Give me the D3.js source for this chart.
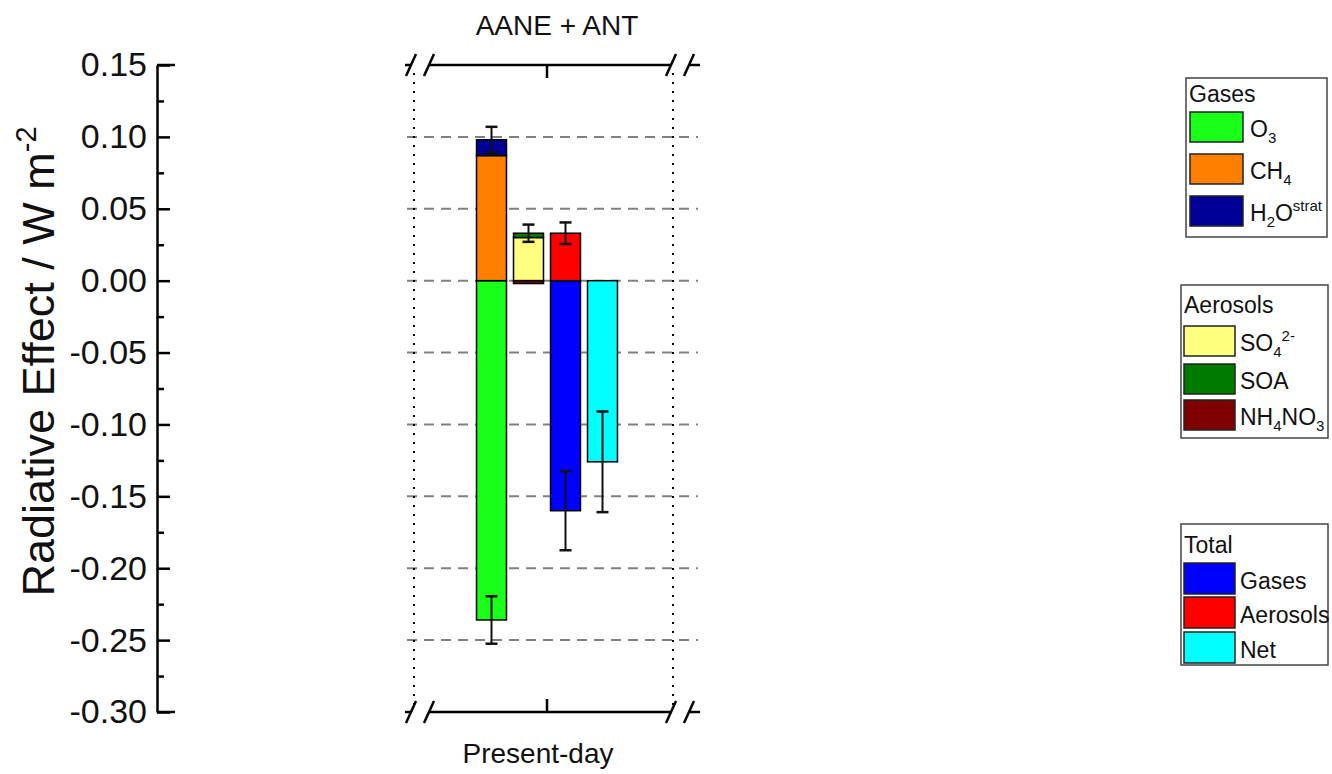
<!DOCTYPE html>
<html>
<head>
<meta charset="utf-8">
<script src="https://cdn.jsdelivr.net/npm/d3@7"></script>
<style>
  body { margin: 0; background: #fff; }
  svg { display: block; font-family: Arial, "Liberation Sans", sans-serif; }
</style>
</head>
<body>
<svg id="chart" width="1332" height="774"></svg>
<script>
// ---- data ----
const categories = ["Present-day"];
const panelTitle = "AANE + ANT";
const yTicks = [0.15, 0.10, 0.05, 0.00, -0.05, -0.10, -0.15, -0.20, -0.25, -0.30];
const yMinorTicks = [0.125, 0.075, 0.025, -0.025, -0.075, -0.125, -0.175, -0.225, -0.275];

const gasSpecies = ["O3", "CH4", "H2Ostrat"];
const gasValues = [-0.236, 0.087, 0.011];
const gasErrors = [0.0165, 0, 0.009];

const aerosolSpecies = ["SO4", "SOA", "NH4NO3"];
const aerosolValues = [0.030, 0.003, -0.002];
const aerosolErrors = [0, 0.006, 0];

const totalNames = ["Gases", "Aerosols", "Net"];
const totalValues = [-0.160, 0.033, -0.126];
const totalErrors = [0.0275, 0.0075, 0.035];

// bar slots inside the category group and which series each one stacks
const barSlots = ["gas", "aerosol", "total", "net"];

const colors = {
  O3: "#1aff1a", CH4: "#ff8000", H2Ostrat: "#000096",
  SO4: "#ffff80", SOA: "#007a00", NH4NO3: "#7f0000",
  Gases: "#0000ff", Aerosols: "#ff0000", Net: "#00ffff"
};

// legend labels: [text, "sub"|"sup"|""] parts
const legendGroups = [
  { title: "Gases", items: [
    { key: "O3", parts: [["O", ""], ["3", "sub"]] },
    { key: "CH4", parts: [["CH", ""], ["4", "sub"]] },
    { key: "H2Ostrat", parts: [["H", ""], ["2", "sub"], ["O", ""], ["strat", "sup"]] }
  ]},
  { title: "Aerosols", items: [
    { key: "SO4", parts: [["SO", ""], ["4", "sub"], ["2-", "sup"]] },
    { key: "SOA", parts: [["SOA", ""]] },
    { key: "NH4NO3", parts: [["NH", ""], ["4", "sub"], ["NO", ""], ["3", "sub"]] }
  ]},
  { title: "Total", items: [
    { key: "Gases", parts: [["Gases", ""]] },
    { key: "Aerosols", parts: [["Aerosols", ""]] },
    { key: "Net", parts: [["Net", ""]] }
  ]}
];

// ---- build stacked segments ----
function stackSeries(names, values, errors) {
  let pos = 0, neg = 0;
  return names.map((n, i) => {
    const v = values[i];
    let y0, y1;
    if (v >= 0) { y0 = pos; y1 = pos + v; pos = y1; }
    else { y0 = neg; y1 = neg + v; neg = y1; }
    return { name: n, y0, y1, err: errors[i] };
  });
}
const slotSegments = {
  gas: stackSeries(gasSpecies, gasValues, gasErrors),
  aerosol: stackSeries(aerosolSpecies, aerosolValues, aerosolErrors),
  total: stackSeries(totalNames.slice(0, 2), totalValues.slice(0, 2), totalErrors.slice(0, 2)),
  net: stackSeries(totalNames.slice(2), totalValues.slice(2), totalErrors.slice(2))
};

// ---- layout ----
const svg = d3.select("#chart");
const axisX = 157, plotTop = 65, plotBottom = 712;
const frameLeft = 414, frameRight = 673;

const y = d3.scaleLinear().domain([-0.30, 0.15]).range([plotBottom, plotTop]);
const xCat = d3.scaleBand().domain(categories).range([414, 680]);
const catCenter = xCat(categories[0]) + xCat.bandwidth() / 2;
const xSlot = d3.scaleBand().domain(barSlots)
  .range([catCenter - 74, catCenter + 74]).paddingInner(0.19).paddingOuter(0.095);

// ---- left value axis ----
const yAxis = d3.axisLeft(y).tickValues(yTicks).tickFormat(d3.format(".2f"))
  .tickSizeInner(-13).tickSizeOuter(0).tickPadding(10);
const gY = svg.append("g").attr("transform", `translate(${axisX},0)`).call(yAxis);
gY.select(".domain").attr("stroke", "#000").attr("stroke-width", 2.5);
gY.selectAll(".tick line").attr("stroke", "#000").attr("stroke-width", 2.5);
gY.selectAll(".tick text").attr("font-size", 34).attr("font-family", "Arial, 'Liberation Sans', sans-serif").attr("fill", "#111")
  .text(d => d3.format(".2f")(d).replace("−", "-"));
const yMinor = d3.axisLeft(y).tickValues(yMinorTicks).tickFormat("").tickSizeInner(-7).tickSizeOuter(0);
const gYm = svg.append("g").attr("transform", `translate(${axisX},0)`).call(yMinor);
gYm.select(".domain").remove();
gYm.selectAll(".tick line").attr("stroke", "#000").attr("stroke-width", 2.5);
// axis end caps
[0.15, -0.30].forEach(v => {
  svg.append("line").attr("x1", axisX).attr("x2", axisX + 18)
    .attr("y1", y(v)).attr("y2", y(v)).attr("stroke", "#000").attr("stroke-width", 2.5);
});

// y-axis title
const yTitle = svg.append("text")
  .attr("transform", `translate(54,${(600 + 123) / 2}) rotate(-90)`)
  .attr("text-anchor", "middle").attr("font-size", 45).attr("fill", "#111");
yTitle.append("tspan").text("Radiative Effect / W m");
yTitle.append("tspan").attr("dy", -18).attr("font-size", 29).text("-2");

// ---- panel gridlines ----
const gridVals = yTicks.filter(v => v < 0.149 && v > -0.299);
svg.append("g").selectAll("line").data(gridVals).join("line")
  .attr("x1", 407).attr("x2", 698)
  .attr("y1", d => y(d)).attr("y2", d => y(d))
  .attr("stroke", "#808080").attr("stroke-width", 2).attr("stroke-dasharray", "10,7");

// dotted frame verticals
[frameLeft, frameRight].forEach(xv => {
  svg.append("line").attr("x1", xv).attr("x2", xv).attr("y1", 73).attr("y2", 706)
    .attr("stroke", "#000").attr("stroke-width", 2).attr("stroke-dasharray", "2,7");
});

// ---- bars ----
const bars = svg.append("g");
barSlots.forEach(slot => {
  const x0 = xSlot(slot), w = xSlot.bandwidth();
  slotSegments[slot].forEach(s => {
    bars.append("rect")
      .attr("x", x0).attr("width", w)
      .attr("y", y(Math.max(s.y0, s.y1)))
      .attr("height", Math.abs(y(s.y0) - y(s.y1)))
      .attr("fill", colors[s.name]).attr("stroke", "#000").attr("stroke-width", 1.5);
  });
});
// error bars
const errs = svg.append("g").attr("stroke", "#111").attr("stroke-width", 2);
barSlots.forEach(slot => {
  const cx = xSlot(slot) + xSlot.bandwidth() / 2;
  slotSegments[slot].filter(s => s.err > 0).forEach(s => {
    const lo = y(s.y1 - s.err), hi = y(s.y1 + s.err);
    errs.append("line").attr("x1", cx).attr("x2", cx).attr("y1", lo).attr("y2", hi);
    errs.append("line").attr("x1", cx - 6).attr("x2", cx + 6).attr("y1", lo).attr("y2", lo).attr("stroke-width", 2.5);
    errs.append("line").attr("x1", cx - 6).attr("x2", cx + 6).attr("y1", hi).attr("y2", hi).attr("stroke-width", 2.5);
  });
});

// ---- broken top / bottom axes ----
function brokenAxis(yy, tickDir) {
  const g = svg.append("g").attr("stroke", "#000").attr("stroke-width", 2.5).attr("fill", "none");
  const sl = [411, 429, 671, 689];
  g.append("line").attr("x1", 405).attr("x2", sl[0]).attr("y1", yy).attr("y2", yy);
  g.append("line").attr("x1", sl[1]).attr("x2", sl[2]).attr("y1", yy).attr("y2", yy);
  g.append("line").attr("x1", sl[3]).attr("x2", 700).attr("y1", yy).attr("y2", yy);
  sl.forEach(cx => {
    g.append("line").attr("x1", cx - 5).attr("x2", cx + 5).attr("y1", yy + 11).attr("y2", yy - 11);
  });
  g.append("line").attr("x1", catCenter).attr("x2", catCenter)
    .attr("y1", yy).attr("y2", yy + tickDir * 13);
}
brokenAxis(plotTop, 1);
brokenAxis(plotBottom, -1);

svg.append("text").attr("x", 557).attr("y", 35).attr("text-anchor", "middle")
  .attr("font-size", 28).attr("fill", "#111").text(panelTitle);
svg.append("text").attr("x", 538).attr("y", 763).attr("text-anchor", "middle")
  .attr("font-size", 28).attr("fill", "#111").text(categories[0]);

// ---- legends ----
const legendBoxes = [
  { x: 1186, y: 78, w: 141, h: 159, headY: 102, swX: 1190, swW: 53, swH: 30, swY: [112, 154, 196], labX: 1250 },
  { x: 1181, y: 285, w: 147, h: 153, headY: 313, swX: 1184, swW: 51, swH: 30, swY: [326, 364, 400], labX: 1240 },
  { x: 1181, y: 524, w: 147, h: 141, headY: 553, swX: 1184, swW: 51, swH: 31, swY: [563, 597, 632], labX: 1240 }
];
legendGroups.forEach((grp, gi) => {
  const L = legendBoxes[gi];
  const g = svg.append("g");
  g.append("rect").attr("x", L.x).attr("y", L.y).attr("width", L.w).attr("height", L.h)
    .attr("fill", "#fff").attr("stroke", "#444").attr("stroke-width", 1.5);
  g.append("text").attr("x", L.x + 3).attr("y", L.headY).attr("font-size", 23).attr("fill", "#111").text(grp.title);
  grp.items.forEach((it, i) => {
    const sy = L.swY[i];
    g.append("rect").attr("x", L.swX).attr("y", sy).attr("width", L.swW).attr("height", L.swH)
      .attr("fill", colors[it.key]).attr("stroke", "#222").attr("stroke-width", 1.5);
    const t = g.append("text").attr("x", L.labX).attr("y", sy + L.swH - 5)
      .attr("font-size", 23).attr("fill", "#111");
    let shift = 0;
    it.parts.forEach(([txt, kind]) => {
      const target = kind === "sub" ? 6 : kind === "sup" ? -10 : 0;
      t.append("tspan").attr("dy", target - shift)
        .attr("font-size", kind ? 15 : 23).text(txt);
      shift = target;
    });
  });
});
</script>
</body>
</html>
